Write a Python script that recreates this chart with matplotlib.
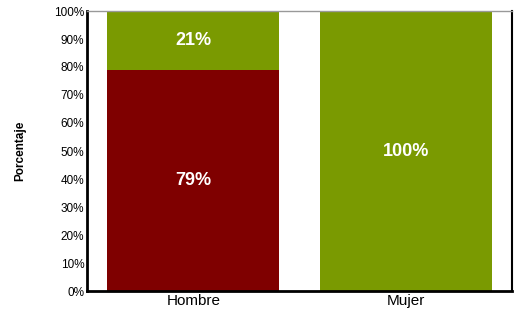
import matplotlib
matplotlib.use("Agg")
import matplotlib.pyplot as plt

plt.rcParams['font.family'] = ['Liberation Sans', 'DejaVu Sans']

# data
categories = ['Hombre', 'Mujer']
bottom_vals = [79, 0]     # dark red segment
top_vals = [21, 100]      # green segment
ticks = list(range(0, 101, 10))

red = '#7F0000'
green = '#7A9A01'

fig = plt.figure(figsize=(5.2, 3.16), dpi=100)
ax = fig.add_axes([87/520, 1 - 291/316, (512-87)/520, (291-11)/316])

x = range(len(categories))
w = 0.81
ax.bar(x, bottom_vals, width=w, color=red, linewidth=0)
ax.bar(x, top_vals, width=w, bottom=bottom_vals, color=green, linewidth=0)

for i in x:
    if bottom_vals[i] > 0:
        ax.text(i, bottom_vals[i] / 2, f'{bottom_vals[i]}%', ha='center', va='center',
                color='white', fontsize=13, fontweight='bold')
    if top_vals[i] > 0:
        ax.text(i, bottom_vals[i] + top_vals[i] / 2, f'{top_vals[i]}%', ha='center', va='center',
                color='white', fontsize=13, fontweight='bold')

ax.set_xlim(-0.5, 1.5)
ax.set_ylim(0, 100)
ax.set_yticks(ticks)
ax.set_yticklabels([f'{t}%' for t in ticks], fontsize=8.5)
ax.set_xticks(list(x))
ax.set_xticklabels(categories, fontsize=11)
ax.tick_params(length=0, pad=2)
ax.set_ylabel('Porcentaje', fontsize=8.5, fontweight='bold', labelpad=20)

for side in ['left', 'bottom']:
    ax.spines[side].set_linewidth(2)
ax.spines['top'].set_linewidth(1)
ax.spines['top'].set_color('#999999')
ax.spines['right'].set_linewidth(1.5)

fig.savefig('out.png', dpi=100)
